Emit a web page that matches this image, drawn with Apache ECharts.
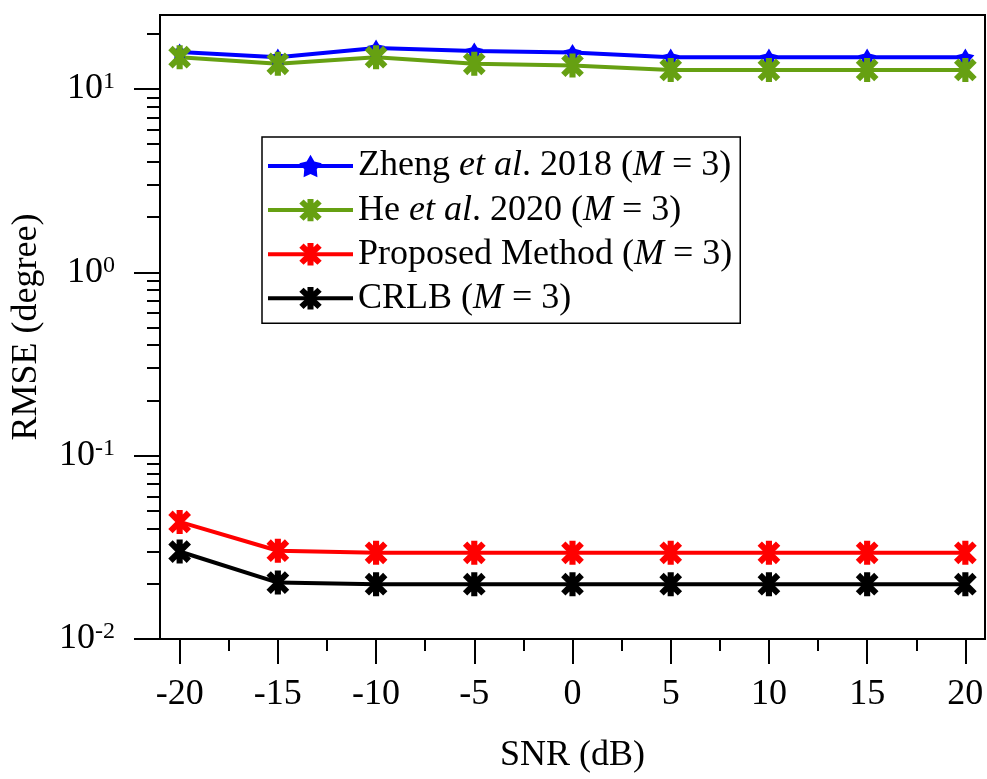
<!DOCTYPE html>
<html>
<head>
<meta charset="utf-8">
<script src="https://cdn.jsdelivr.net/npm/echarts@6/dist/echarts.min.js"></script>
<style>
html,body{margin:0;padding:0;background:#fff;}
#c{width:987px;height:779px;}
</style>
</head>
<body>
<div id="c"></div>
<script>
// ---- data ----
var snr = [-20, -15, -10, -5, 0, 5, 10, 15, 20];
var zheng = [15.9, 14.9, 16.7, 16.1, 15.8, 14.9, 14.9, 14.9, 14.9];
var he = [14.9, 13.7, 14.9, 13.7, 13.4, 12.7, 12.7, 12.7, 12.7];
var proposed = [0.0435, 0.0303, 0.0295, 0.0295, 0.0295, 0.0295, 0.0295, 0.0295, 0.0295];
var crlb = [0.0300, 0.0203, 0.0199, 0.0199, 0.0199, 0.0199, 0.0199, 0.0199, 0.0199];
var xMajorTicks = [-20, -15, -10, -5, 0, 5, 10, 15, 20];
var xMinorTicks = [-17.5, -12.5, -7.5, -2.5, 2.5, 7.5, 12.5, 17.5];
var yMajorTicks = [0.01, 0.1, 1, 10];
var yMinorTicks = [0.02,0.03,0.04,0.05,0.06,0.07,0.08,0.09,0.2,0.3,0.4,0.5,0.6,0.7,0.8,0.9,2,3,4,5,6,7,8,9,20];
var seriesNames = ['Zheng et al. 2018 (M = 3)', 'He et al. 2020 (M = 3)', 'Proposed Method (M = 3)', 'CRLB (M = 3)'];
var legendRich = {
  'Zheng et al. 2018 (M = 3)': '{n|Zheng }{i|et al}{n|. 2018 (}{i|M}{n| = 3)}',
  'He et al. 2020 (M = 3)': '{n|He }{i|et al}{n|. 2020 (}{i|M}{n| = 3)}',
  'Proposed Method (M = 3)': '{n|Proposed Method (}{i|M}{n| = 3)}',
  'CRLB (M = 3)': '{n|CRLB (}{i|M}{n| = 3)}'
};

var FONT = "'Liberation Serif','Times New Roman',serif";
var starPath = 'path://M50,0 L66.5,27.3 L97.6,34.5 L76.6,58.7 L79.4,90.5 L50,78 L20.6,90.5 L23.4,58.7 L2.4,34.5 L33.5,27.3 Z';
var astPath = 'path://M38,3 L62,3 L62,97 L38,97 Z M22.5,5.5 L94.5,77.5 L77.5,94.5 L5.5,22.5 Z M77.5,5.5 L94.5,22.5 L22.5,94.5 L5.5,77.5 Z';

function pairs(ys) { return snr.map(function (x, i) { return [x, ys[i]]; }); }

function mkSeries(name, data, color, symbol, size) {
  return {
    name: name, type: 'line', data: pairs(data),
    xAxisIndex: 0, yAxisIndex: 0,
    symbol: symbol, symbolSize: size, symbolKeepAspect: true,
    showSymbol: true,
    lineStyle: { color: color, width: 4 },
    itemStyle: { color: color, borderWidth: 0 },
    emphasis: { disabled: true },
    z: 3
  };
}

var chart = echarts.init(document.getElementById('c'), null, { renderer: 'canvas' });
chart.setOption({
  animation: false,
  backgroundColor: '#fff',
  grid: { left: 160, right: 2, top: 15, bottom: 139, show: true, borderColor: '#000', borderWidth: 2, backgroundColor: 'transparent' },
  legend: {
    show: true, orient: 'vertical', left: 262, top: 137,
    data: seriesNames,
    itemWidth: 85, itemHeight: 28, itemGap: 8.1,
    padding: [11, 8, 7, 4],
    backgroundColor: '#fff', borderColor: '#000', borderWidth: 1.5,
    lineStyle: { width: 4 },
    formatter: function (n) { return legendRich[n]; },
    textStyle: {
      fontFamily: FONT, fontSize: 36, color: '#000', lineHeight: 30,
      rich: {
        n: { fontFamily: FONT, fontSize: 36, color: '#000', lineHeight: 30 },
        i: { fontFamily: FONT, fontSize: 36, color: '#000', fontStyle: 'italic', lineHeight: 30 }
      }
    }
  },
  xAxis: [{
    type: 'value', min: -21, max: 21, position: 'bottom',
    name: 'SNR (dB)', nameLocation: 'middle', nameGap: 99,
    nameTextStyle: { fontFamily: FONT, fontSize: 36, color: '#000', verticalAlign: 'top' },
    axisLine: { show: true, onZero: false, lineStyle: { color: '#000', width: 2 } },
    axisTick: { show: true, inside: false, length: 25, customValues: xMajorTicks, lineStyle: { color: '#000', width: 2 } },
    axisLabel: { show: true, customValues: xMajorTicks, margin: 38, fontFamily: FONT, fontSize: 36, color: '#000' },
    splitLine: { show: false }
  }, {
    type: 'value', min: -21, max: 21, position: 'bottom', offset: 0,
    axisLine: { show: false, onZero: false },
    axisTick: { show: true, inside: false, length: 12, customValues: xMinorTicks, lineStyle: { color: '#000', width: 2 } },
    axisLabel: { show: false },
    splitLine: { show: false }
  }],
  yAxis: [{
    type: 'log', logBase: 10, min: 0.01, max: 25.3, position: 'left',
    name: 'RMSE (degree)', nameLocation: 'middle', nameGap: 115, nameRotate: 90,
    nameTextStyle: { fontFamily: FONT, fontSize: 36, color: '#000' },
    axisLine: { show: true, onZero: false, lineStyle: { color: '#000', width: 2 } },
    axisTick: { show: true, inside: false, length: 26, customValues: yMajorTicks, lineStyle: { color: '#000', width: 2 } },
    axisLabel: {
      show: true, customValues: yMajorTicks, margin: 45,
      formatter: function (v) { return '{b|10}{s|' + Math.round(Math.log10(v)) + '}'; },
      rich: {
        b: { fontFamily: FONT, fontSize: 36, color: '#000', lineHeight: 38 },
        s: { fontFamily: FONT, fontSize: 24, color: '#000', verticalAlign: 'top' }
      }
    },
    splitLine: { show: false }
  }, {
    type: 'log', logBase: 10, min: 0.01, max: 25.3, position: 'left', offset: 0,
    axisLine: { show: false, onZero: false },
    axisTick: { show: true, inside: false, length: 13, customValues: yMinorTicks, lineStyle: { color: '#000', width: 2 } },
    axisLabel: { show: false },
    splitLine: { show: false }
  }],
  series: [
    mkSeries(seriesNames[0], zheng, '#0000ff', starPath, 18),
    mkSeries(seriesNames[1], he, '#66a012', astPath, 24),
    mkSeries(seriesNames[2], proposed, '#ff0000', astPath, 24),
    mkSeries(seriesNames[3], crlb, '#000000', astPath, 24)
  ]
});
</script>
</body>
</html>
